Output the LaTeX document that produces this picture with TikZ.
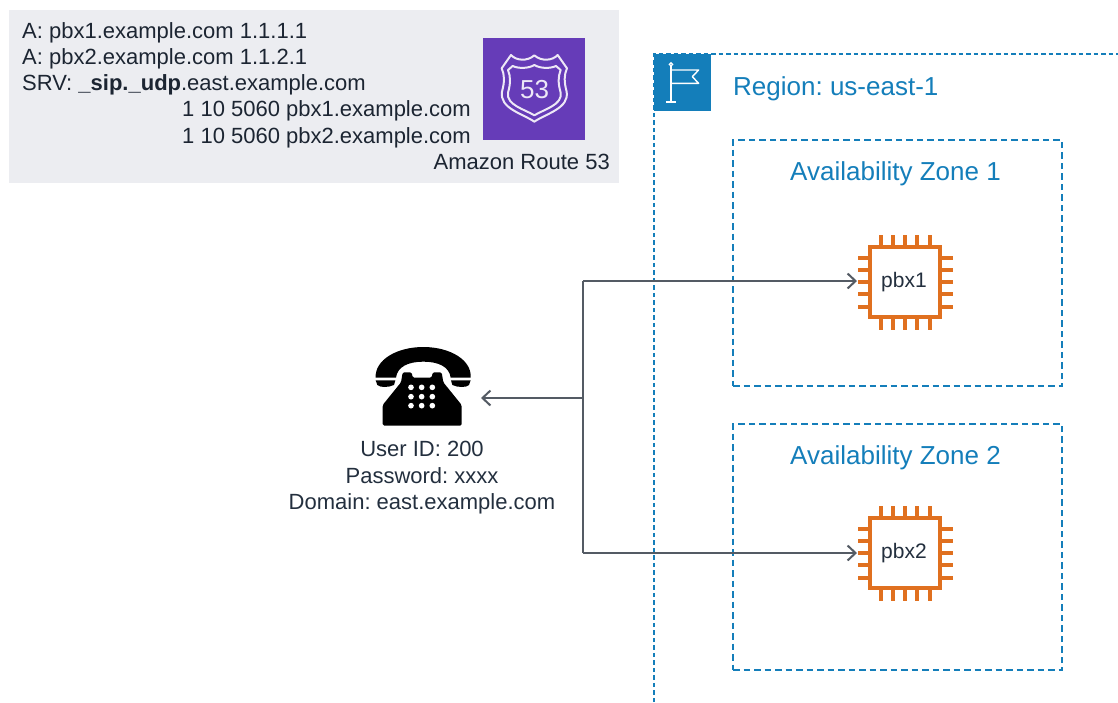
\documentclass[tikz,border=0pt]{standalone}
\usepackage{fontspec}
\setmainfont{Liberation Sans}
\usetikzlibrary{arrows.meta}
\definecolor{awsblue}{HTML}{147EBA}
\definecolor{panelgray}{HTML}{ECEDF1}
\definecolor{r53}{HTML}{663CB8}
\definecolor{chipor}{HTML}{E0701F}
\definecolor{linkgray}{HTML}{545B64}
\definecolor{txt}{HTML}{232F3E}
\frenchspacing
\tikzset{
  x=1pt,y=-1pt,
  zonebox/.style={draw=awsblue,line width=2pt,dash pattern=on 6.5pt off 4pt,minimum width=329pt,minimum height=246pt,inner sep=0pt},
  zonelabel/.style={text=awsblue,font=\fontsize{26}{26}\selectfont,anchor=center,inner sep=0pt},
  chipbox/.style={draw=chipor,line width=4.2pt,fill=white,minimum size=70pt,inner sep=0pt,text=txt,font=\fontsize{21}{21}\selectfont},
  pin/.style={draw=chipor,line width=4pt},
  link/.style={draw=linkgray,line width=2pt},
  arrow/.style={link,-{Straight Barb[length=8pt,width=15pt,line width=2pt]}},
  dns/.style={anchor=base west,inner sep=0pt,text=txt!80!black,font=\fontsize{22}{22}\selectfont},
  usertext/.style={anchor=base,inner sep=0pt,text=txt,font=\fontsize{22}{22}\selectfont},
  iconline/.style={draw=white!88!r53,line width=2pt,line join=round},
}
\newcommand{\chippins}[1]{%
  \foreach \d in {-24.5,-12.2,0,12.2,24.5}{
    \path (#1.center) ++(\d,-36.5) coordinate (a) ++(0,-11) coordinate (b);
    \draw[pin] (a) -- (b);
    \path (#1.center) ++(\d,36.5) coordinate (a) ++(0,11) coordinate (b);
    \draw[pin] (a) -- (b);
    \path (#1.center) ++(-36.5,\d) coordinate (a) ++(-11,0) coordinate (b);
    \draw[pin] (a) -- (b);
    \path (#1.center) ++(36.5,\d) coordinate (a) ++(11,0) coordinate (b);
    \draw[pin] (a) -- (b);
  }}
\begin{document}
\begin{tikzpicture}
\useasboundingbox (0,0) rectangle (1118,702);
% DNS panel
\fill[panelgray] (9,10) rectangle (619,183);
\node[dns] (l1) at (22,38) {A: pbx1.example.com 1.1.1.1};
\node[dns] (l2) at (22,64) {A: pbx2.example.com 1.1.2.1};
\node[dns] (l3) at (22,90) {SRV: \textbf{\_sip.\_udp}.east.example.com};
\node[dns] (l4) at (182,116) {1 10 5060 pbx1.example.com};
\node[dns] (l5) at (182,143) {1 10 5060 pbx2.example.com};
\node[dns,anchor=base east] (r53label) at (610,169) {Amazon Route 53};
% Route 53 icon
\node[fill=r53,minimum size=102pt,inner sep=0pt] (r53icon) at (534,88.5) {};
\begin{scope}[shift={(440,20)},x=0.3333pt,y=-0.3333pt]
\draw[iconline] (213,105) .. controls (228,122) and (262,125) .. (283,106) .. controls (304,125) and (338,122) .. (353,105) -- (381,145) .. controls (372,165) and (372,185) .. (380,215) .. controls (388,265) and (320,280) .. (283,305) .. controls (246,280) and (178,265) .. (186,215) .. controls (194,185) and (194,165) .. (185,145) -- cycle;
\draw[iconline] (218,138) .. controls (235,146) and (265,146) .. (283,135) .. controls (301,146) and (331,146) .. (348,138) -- (362,150) .. controls (354,170) and (354,190) .. (362,218) .. controls (368,255) and (312,268) .. (283,286) .. controls (254,268) and (198,255) .. (204,218) .. controls (212,190) and (212,170) .. (204,150) -- cycle;
\end{scope}
\node[text=white!88!r53,font=\fontsize{26}{26}\selectfont,inner sep=0pt] (r53num) at (534.5,90) {53};
% Region
\coordinate (regtop) at (654,54);
\coordinate (regright) at (1118,54);
\coordinate (regbottom) at (654,702);
\draw[draw=awsblue,line width=2pt,dash pattern=on 4.5pt off 3pt] (regbottom) -- (regtop) -- (regright);
\node[fill=awsblue,minimum size=57pt,inner sep=0pt] (flag) at (682.5,82.5) {};
\begin{scope}[shift={(440,20)},x=0.3333pt,y=-0.3333pt]
\draw[white,line width=1.4pt] (693,138) -- (693,246) (678,246) -- (708,246);
\draw[white,line width=1.2pt] (693,133) circle[radius=5];
\draw[white,line width=1.4pt,line join=round] (693,150) -- (776,150) -- (757,170) -- (776,190) -- (693,190);
\end{scope}
\node[zonelabel,anchor=base west] (regionlabel) at (733,95.5) {Region: us-east-1};
% Zones
\node[zonebox] (az1) at (897.5,263) {};
\node[zonebox] (az2) at (897.5,547) {};
\node[zonelabel] (az1label) at (895.5,174) {Availability Zone 1};
\node[zonelabel] (az2label) at (895.5,458) {Availability Zone 2};
% Chips
\node[chipbox] (pbx1) at (905,282) {\raisebox{-2.5pt}{\hspace*{-2pt}pbx1}};
\chippins{pbx1}
\node[chipbox] (pbx2) at (905,553) {\raisebox{-2.5pt}{\hspace*{-2pt}pbx2}};
\chippins{pbx2}
% Phone
\begin{scope}[shift={(360,335)},x=0.3333pt,y=-0.3333pt]
\fill[black] (47,128) .. controls (44,75) and (110,36) .. (190,36) .. controls (270,36) and (336,75) .. (332,128) -- (272,128) .. controls (268,95) and (235,80) .. (190,80) .. controls (145,80) and (112,95) .. (108,128) -- cycle;
\fill[black] (47,136) -- (106,136) -- (102,150) .. controls (85,158) and (60,158) .. (52,150) -- cycle;
\fill[black] (273,136) -- (332,136) -- (327,150) .. controls (319,158) and (294,158) .. (277,150) -- cycle;
\fill[black,rounded corners=1.5pt] (128,112) -- (155,112) -- (158,128) -- (215,128) -- (218,112) -- (245,112) -- (250,142) -- (305,210) -- (305,272) -- (68,272) -- (68,210) -- (123,142) -- cycle;
\foreach \x in {153,185,217}\foreach \y in {157,185,212}{\fill[white] (\x,\y) circle[radius=8.5];}
\end{scope}
\node[minimum width=100pt,minimum height=80pt,inner sep=0pt] (phone) at (423,386) {};
\node[usertext] (u1) at (422,456) {User ID: 200};
\node[usertext] (u2) at (422,483) {Password: xxxx};
\node[usertext] (u3) at (422,509) {Domain: east.example.com};
% Connectors
\coordinate (jn) at (583,398);
\coordinate (ju) at (583,281);
\coordinate (jd) at (583,553);
\coordinate (pin1) at (857,281);
\coordinate (pin2) at (857,553);
\coordinate (phonein) at (481,398);
\draw[link] (ju) -- (jd);
\draw[arrow] (ju) -- (pin1);
\draw[arrow] (jd) -- (pin2);
\draw[arrow] (jn) -- (phonein);
\end{tikzpicture}
\end{document}
